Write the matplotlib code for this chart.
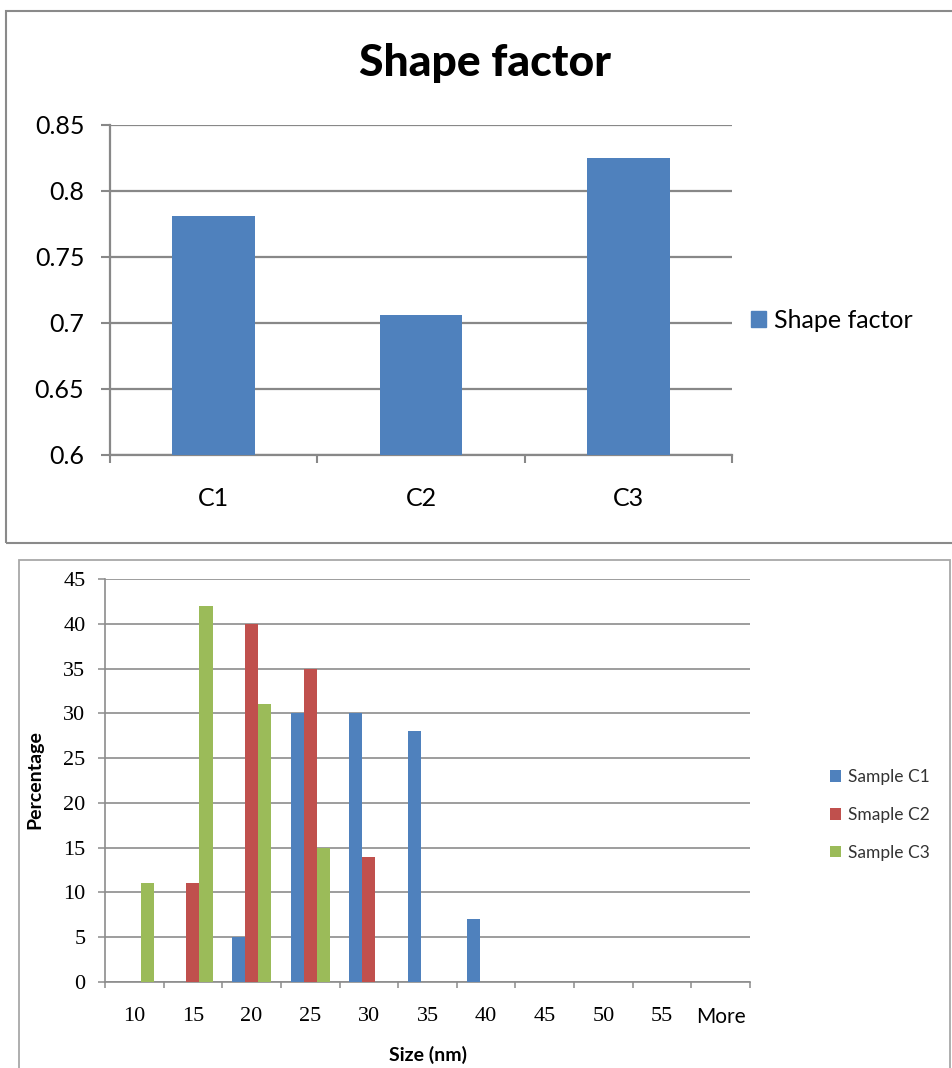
import numpy as np
import matplotlib
matplotlib.use("Agg")
import matplotlib.pyplot as plt
from matplotlib.patches import Rectangle, Patch
from matplotlib.ticker import FixedLocator, FormatStrFormatter

# figure size in pixels
W, H = 952, 1068

# top chart data
shape_cats = ["C1", "C2", "C3"]
shape_vals = [0.781, 0.706, 0.825]

# bottom chart data (size distribution, %)
size_bins = ["10", "15", "20", "25", "30", "35", "40", "45", "50", "55", "More"]
sample_c1 = [0, 0, 5, 30, 30, 28, 7, 0, 0, 0, 0]
sample_c2 = [0, 11, 40, 35, 14, 0, 0, 0, 0, 0, 0]
sample_c3 = [11, 42, 31, 15, 0, 0, 0, 0, 0, 0, 0]
series_names = ["Sample C1", "Smaple C2", "Sample C3"]

BLUE = "#4F81BD"
RED = "#C0504D"
GREEN = "#9BBB59"
GRID = "#888888"

SANS = ["Lato", "DejaVu Sans"]
SERIF = ["Liberation Serif", "DejaVu Serif"]


def box(x0, y0, x1, y1):
    # pixel box (top-left origin) -> figure fraction rect
    return [x0 / W, 1 - y1 / H, (x1 - x0) / W, (y1 - y0) / H]


fig = plt.figure(figsize=(W / 100, H / 100), dpi=100)

# outer frames of the two charts
fig.patches.append(Rectangle((6 / W, 1 - 542.5 / H), (965 - 6) / W, (542.5 - 10.5) / H,
                             transform=fig.transFigure, fill=False,
                             edgecolor="#8a8a8a", linewidth=1.5))
fig.patches.append(Rectangle((19 / W, 1 - 1080 / H), (950 - 19) / W, (1080 - 560) / H,
                             transform=fig.transFigure, fill=False,
                             edgecolor="#a8a8a8", linewidth=1.3))

# ---------------- top chart ----------------
ax1 = fig.add_axes(box(110, 125, 732, 455))
x1 = np.arange(len(shape_cats))
ax1.bar(x1, shape_vals, width=0.4, color=BLUE, zorder=3)
ax1.set_xlim(-0.5, len(shape_cats) - 0.5)
ax1.set_ylim(0.6, 0.85)
ax1.set_yticks(np.arange(0.6, 0.851, 0.05))
ax1.yaxis.set_major_formatter(FormatStrFormatter("%g"))
ax1.grid(axis="y", color=GRID, linewidth=1.6, zorder=0)
ax1.xaxis.set_major_locator(FixedLocator(np.arange(-0.5, len(shape_cats), 1.0)))
ax1.xaxis.set_minor_locator(FixedLocator(x1))
ax1.set_xticklabels([])
ax1.set_xticklabels(shape_cats, minor=True)
ax1.tick_params(axis="x", which="major", direction="out", length=6, width=1.5, color=GRID)
ax1.tick_params(axis="x", which="minor", length=0, pad=23)
ax1.tick_params(axis="y", direction="out", length=6.5, width=1.5, color=GRID, pad=12)
for sp in ["top", "right"]:
    ax1.spines[sp].set_visible(False)
for sp in ["left", "bottom"]:
    ax1.spines[sp].set_color(GRID)
    ax1.spines[sp].set_linewidth(1.6)
for lab in ax1.get_yticklabels() + ax1.get_xticklabels(minor=True):
    lab.set_fontfamily(SANS)
    lab.set_fontsize(18)

fig.text(485 / W, 1 - 63 / H, "Shape factor", ha="center", va="center",
         fontsize=32, fontweight="black", family=SANS)
fig.legend(handles=[Patch(color=BLUE, label="Shape factor")],
           loc="center left", bbox_to_anchor=(728 / W, 1 - 320 / H),
           frameon=False, prop={"family": SANS, "size": 18},
           handlelength=0.6, handleheight=0.6, handletextpad=0.35)

# ---------------- bottom chart ----------------
ax2 = fig.add_axes(box(105, 579, 750, 982))
x2 = np.arange(len(size_bins))
bw = 1 / 4.5
for i, (vals, col) in enumerate(zip([sample_c1, sample_c2, sample_c3], [BLUE, RED, GREEN])):
    ax2.bar(x2 + (i - 1) * bw, vals, width=bw, color=col, zorder=3, label=series_names[i])
ax2.set_xlim(-0.5, len(size_bins) - 0.5)
ax2.set_ylim(0, 45)
ax2.set_yticks(np.arange(0, 46, 5))
ax2.grid(axis="y", color="#8c8c8c", linewidth=1.2, zorder=0)
ax2.xaxis.set_major_locator(FixedLocator(np.arange(-0.5, len(size_bins), 1.0)))
ax2.xaxis.set_minor_locator(FixedLocator(x2))
ax2.set_xticklabels([])
ax2.set_xticklabels(size_bins, minor=True)
ax2.tick_params(axis="x", which="major", direction="out", length=4.5, width=1.1, color="#8c8c8c")
ax2.tick_params(axis="x", which="minor", length=0, pad=18)
ax2.tick_params(axis="y", direction="out", length=5, width=1.1, color="#8c8c8c", pad=9)
for sp in ["top", "right"]:
    ax2.spines[sp].set_visible(False)
for sp in ["left", "bottom"]:
    ax2.spines[sp].set_color("#8c8c8c")
    ax2.spines[sp].set_linewidth(1.2)
for lab in ax2.get_yticklabels():
    lab.set_fontfamily(SERIF)
    lab.set_fontsize(16)
for lab in ax2.get_xticklabels(minor=True):
    lab.set_fontfamily(SERIF)
    lab.set_fontsize(16)
    if lab.get_text() == "More":
        lab.set_fontfamily(SANS)
        lab.set_fontsize(15)

fig.text(35 / W, 1 - 780 / H, "Percentage", ha="center", va="center", rotation=90,
         fontsize=14, fontweight="bold", family=SANS)
fig.text(428 / W, 1 - 1055 / H, "Size (nm)", ha="center", va="center",
         fontsize=14, fontweight="bold", family=SANS)

h, l = ax2.get_legend_handles_labels()
fig.legend(h, l, loc="center left", bbox_to_anchor=(814 / W, 1 - 815 / H),
           frameon=False, prop={"family": SANS, "size": 12.5}, labelcolor="#333333",
           handlelength=0.65, handleheight=0.65, handletextpad=0.4, labelspacing=1.25)

fig.savefig("out.png", dpi=100)
